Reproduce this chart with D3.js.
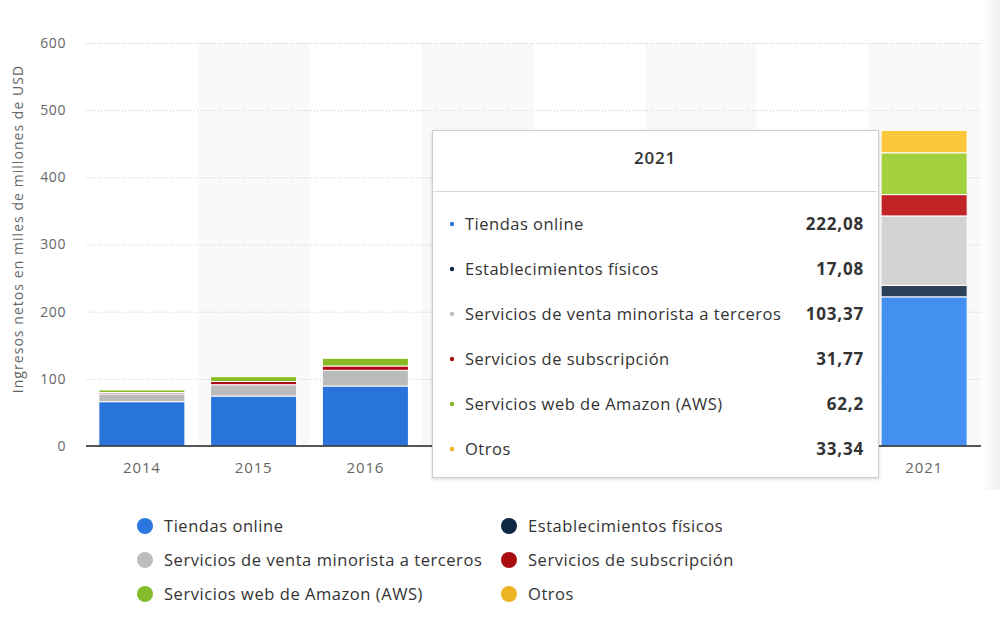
<!DOCTYPE html>
<html>
<head>
<meta charset="utf-8">
<script src="https://cdn.jsdelivr.net/npm/d3@7"></script>
<style>
  body { margin: 0; background: #fff; font-family: "Open Sans", sans-serif; }
  svg text { font-family: "Open Sans", sans-serif; }
</style>
</head>
<body>
<script>
var years = ["2014", "2015", "2016", "2017", "2018", "2019", "2020", "2021"];
var seriesNames = ["Tiendas online", "Establecimientos físicos", "Servicios de venta minorista a terceros",
  "Servicios de subscripción", "Servicios web de Amazon (AWS)", "Otros"];

var tiendasOnline   = [66.0, 74.4, 89.3, 108.35, 122.99, 141.25, 197.35, 222.08];
var establecimientos = [0, 0, 0, 5.8, 17.22, 17.19, 16.23, 17.08];
var ventaTerceros   = [11.6, 16.8, 23.4, 31.88, 42.75, 53.76, 80.46, 103.37];
var subscripcion    = [2.0, 4.8, 6.4, 9.72, 14.17, 19.21, 25.21, 31.77];
var aws             = [3.8, 7.2, 11.5, 17.46, 25.66, 35.03, 45.37, 62.2];
var otros           = [0, 0, 0, 4.65, 10.11, 14.09, 21.45, 33.34];

var yTicks = [0, 100, 200, 300, 400, 500, 600];
var tooltipValues = ["222,08", "17,08", "103,37", "31,77", "62,2", "33,34"];
var hoverYear = "2021";

var colors      = ["#2874db", "#0f2a47", "#bbbbbb", "#b0060f", "#88bb24", "#ebb526"];
var hoverColors = ["#4490f0", "#2b4157", "#d3d3d3", "#c22327", "#a2d03e", "#fdc73b"];
var legendColors = ["#2a77e0", "#0e2844", "#bdbdbd", "#a80d10", "#84bb2a", "#ecb323"];

var width = 1000, height = 635;
var svg = d3.select("body").append("svg")
    .attr("width", width)
    .attr("height", height);

var defs = svg.append("defs");
var grad = defs.append("linearGradient").attr("id", "edge");
grad.append("stop").attr("offset", "0%").attr("stop-color", "#ffffff");
grad.append("stop").attr("offset", "100%").attr("stop-color", "#f1f1f1");
var shadow = defs.append("filter").attr("id", "shadow")
    .attr("x", "-5%").attr("y", "-5%").attr("width", "110%").attr("height", "110%");
shadow.append("feDropShadow").attr("dx", 0).attr("dy", 1).attr("stdDeviation", 1.5)
    .attr("flood-color", "#000").attr("flood-opacity", 0.18);

var x = d3.scaleBand().domain(years).range([86, 980]).paddingInner(0.23).paddingOuter(0.115);
var y = d3.scaleLinear().domain([0, 600]).range([446, 43]);

// tooltip box position
var tipX = 432, tipY = 130, tipW = 446, tipH = 347;

// right edge shade
svg.append("rect").attr("x", 981).attr("y", 0).attr("width", 19).attr("height", 490)
    .attr("fill", "url(#edge)");

// alternating column bands
var step = x.step();
svg.append("g").selectAll("rect")
  .data(years.filter(function(d, i) { return i % 2 === 1; }))
  .enter().append("rect")
    .attr("x", function(d) { return x(d) - step * 0.115; })
    .attr("y", 43)
    .attr("width", step)
    .attr("height", 446 - 43)
    .attr("fill", "#f9f9f9");

// grid
var grid = svg.append("g")
    .attr("transform", "translate(86,0)")
    .call(d3.axisLeft(y).tickValues(yTicks).tickSize(-895).tickFormat(""));
grid.select(".domain").remove();
grid.selectAll("line").attr("stroke", "#c8c8c8").attr("stroke-dasharray", "1,2");

var yAxis = svg.append("g")
    .attr("transform", "translate(66,0)")
    .call(d3.axisLeft(y).tickValues(yTicks).tickSize(0).tickPadding(0));
yAxis.select(".domain").remove();
yAxis.selectAll("text").attr("fill", "#666")
    .style("font-size", "14px").style("letter-spacing", "0.6px");

svg.append("text")
    .attr("transform", "translate(23,229) rotate(-90)")
    .attr("text-anchor", "middle")
    .attr("fill", "#666")
    .style("font-size", "14px")
    .style("letter-spacing", "1.05px")
    .text("Ingresos netos en miles de millones de USD");

// stacked bars
var table = years.map(function(yr, i) {
  return { year: yr, s0: tiendasOnline[i], s1: establecimientos[i], s2: ventaTerceros[i],
           s3: subscripcion[i], s4: aws[i], s5: otros[i] };
});
var stack = d3.stack().keys(["s0", "s1", "s2", "s3", "s4", "s5"]);
var layers = stack(table);

svg.append("g").selectAll("g")
  .data(layers)
  .enter().append("g")
  .each(function(layer, k) {
    d3.select(this).selectAll("rect")
      .data(layer.filter(function(d) { return d[1] - d[0] > 0; }))
      .enter().append("rect")
        .attr("x", function(d) { return x(d.data.year); })
        .attr("y", function(d) { return y(d[1]); })
        .attr("width", x.bandwidth())
        .attr("height", function(d) { return y(d[0]) - y(d[1]); })
        .attr("fill", function(d) { return d.data.year === hoverYear ? hoverColors[k] : colors[k]; })
        .attr("stroke", "#fff")
        .attr("stroke-width", 1);
  });

// x axis
var xAxis = svg.append("g")
    .attr("transform", "translate(0,446)")
    .call(d3.axisBottom(x).tickSize(0).tickPadding(16));
xAxis.select(".domain").attr("stroke", "#222").attr("stroke-width", 1.5)
    .attr("d", "M86,0H981");
xAxis.selectAll("text").attr("fill", "#666")
    .style("font-size", "15px").style("letter-spacing", "0.9px");
// labels that sit under the tooltip are not visible
xAxis.selectAll(".tick")
    .filter(function(d) { var c = x(d) + x.bandwidth() / 2; return c > tipX && c < tipX + tipW; })
    .remove();

// tooltip
var tip = svg.append("g").attr("transform", "translate(" + tipX + "," + tipY + ")");
tip.append("rect")
    .attr("x", 0.5).attr("y", 0.5).attr("width", tipW).attr("height", tipH)
    .attr("fill", "#fff").attr("stroke", "#cfcfcf").attr("filter", "url(#shadow)");
tip.append("text")
    .attr("x", 223).attr("y", 34)
    .attr("text-anchor", "middle")
    .attr("fill", "#333")
    .style("font-size", "17px").style("font-weight", "600").style("letter-spacing", "0.8px")
    .text(hoverYear);
tip.append("line")
    .attr("x1", 1).attr("x2", 445).attr("y1", 61.5).attr("y2", 61.5)
    .attr("stroke", "#d8d8d8");

var rows = tip.selectAll(".row")
  .data(seriesNames)
  .enter().append("g")
    .attr("class", "row")
    .attr("transform", function(d, i) { return "translate(0," + (94 + i * 45) + ")"; });
rows.append("circle")
    .attr("cx", 20).attr("cy", 0).attr("r", 2.2)
    .attr("fill", function(d, i) { return legendColors[i]; });
rows.append("text")
    .attr("x", 33).attr("y", 6)
    .attr("fill", "#333")
    .style("font-size", "16.5px")
    .style("letter-spacing", "0.5px")
    .text(function(d) { return d; });
rows.append("text")
    .attr("x", 432).attr("y", 6)
    .attr("text-anchor", "end")
    .attr("fill", "#333")
    .style("font-size", "17px").style("font-weight", "700").style("letter-spacing", "0.8px")
    .text(function(d, i) { return tooltipValues[i]; });

// legend
var legend = svg.append("g").selectAll("g")
  .data(seriesNames)
  .enter().append("g")
    .attr("transform", function(d, i) {
      return "translate(" + (i % 2 === 0 ? 145 : 509) + "," + (526 + Math.floor(i / 2) * 34) + ")";
    });
legend.append("circle")
    .attr("r", 8)
    .attr("fill", function(d, i) { return legendColors[i]; });
legend.append("text")
    .attr("x", 19).attr("y", 6)
    .attr("fill", "#333")
    .style("font-size", "16.5px")
    .style("letter-spacing", "0.55px")
    .text(function(d) { return d; });
</script>
</body>
</html>
